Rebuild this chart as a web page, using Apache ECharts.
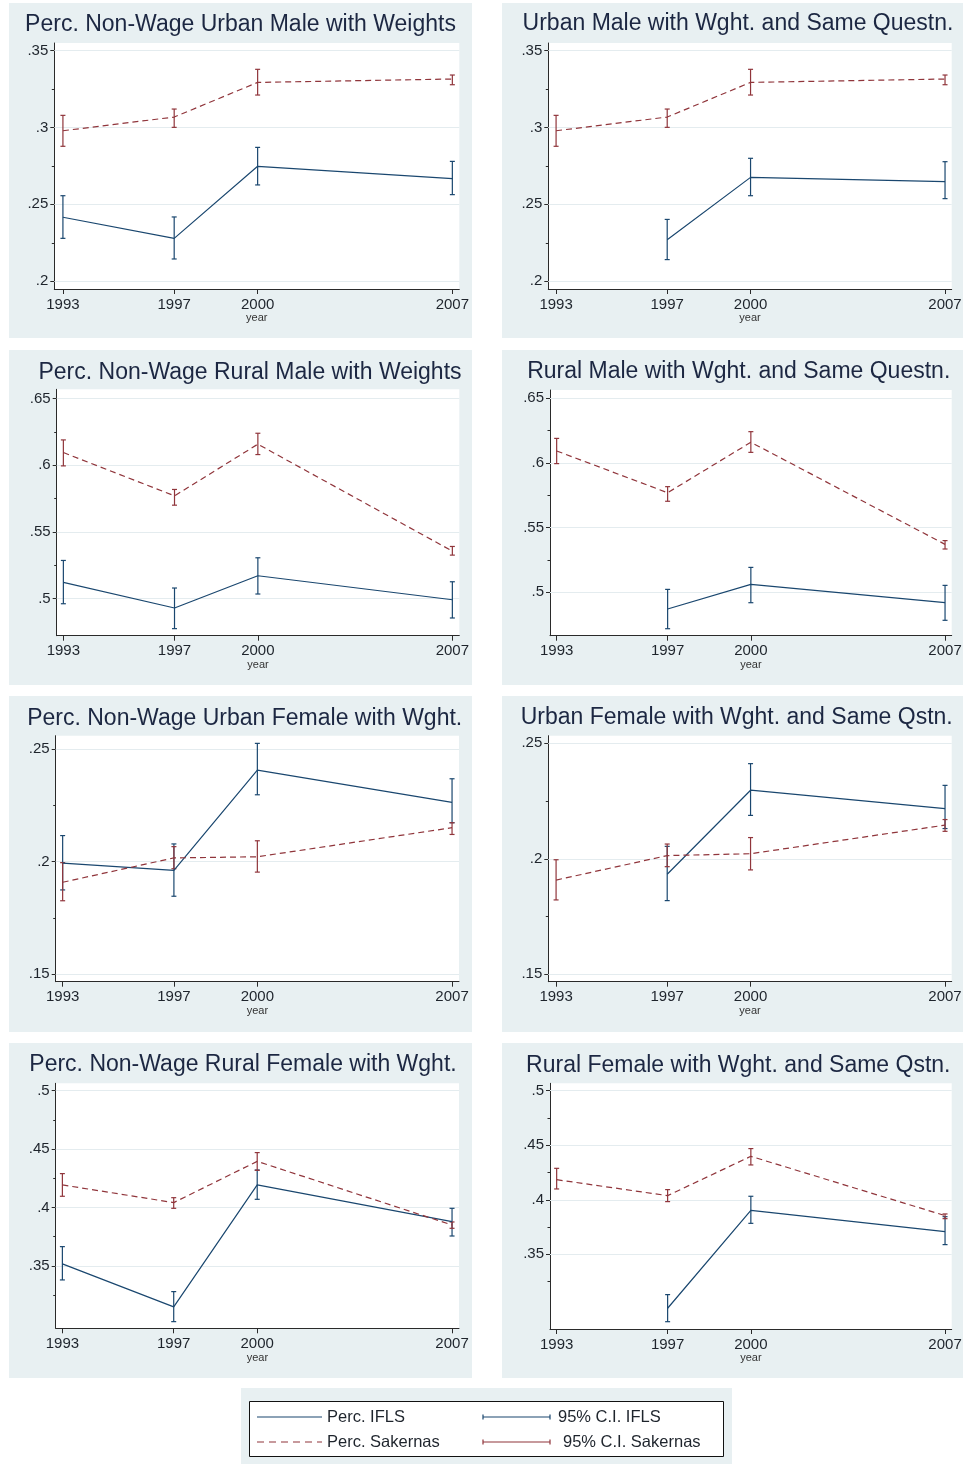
<!DOCTYPE html>
<html>
<head>
<meta charset="utf-8">
<script src="https://cdn.jsdelivr.net/npm/echarts@6/dist/echarts.min.js"></script>
<style>
html,body{margin:0;padding:0;background:#ffffff;}
#chart{width:963px;height:1464px;}
</style>
</head>
<body>
<div id="chart"></div>
<script>
// ---------------- DATA ----------------
const years = [1993, 1997, 2000, 2007];

const titles = [
  'Perc. Non-Wage Urban Male with Weights',
  'Urban Male with Wght. and Same Questn.',
  'Perc. Non-Wage Rural Male with Weights',
  'Rural Male with Wght. and Same Questn.',
  'Perc. Non-Wage Urban Female with Wght.',
  'Urban Female with Wght. and Same Qstn.',
  'Perc. Non-Wage Rural Female with Wght.',
  'Rural Female with Wght. and Same Qstn.'
];

// Perc. IFLS (mean) per panel, by year
const iflsMean = [
  [0.2416, 0.2279, 0.2747, 0.2667],
  [null,   0.2270, 0.2675, 0.2647],
  [0.5120, 0.4928, 0.5170, 0.4990],
  [null,   0.4871, 0.5062, 0.4920],
  [0.1993, 0.1961, 0.2405, 0.2262],
  [null,   0.1933, 0.2297, 0.2217],
  [0.3517, 0.3149, 0.4193, 0.3879],
  [null,   0.3006, 0.3903, 0.3708]
];
const iflsLow = [
  [0.2279, 0.2145, 0.2626, 0.2563],
  [null,   0.2141, 0.2556, 0.2537],
  [0.4960, 0.4773, 0.5033, 0.4853],
  [null,   0.4719, 0.4920, 0.4784],
  [0.1874, 0.1846, 0.2296, 0.2172],
  [null,   0.1819, 0.2188, 0.2131],
  [0.3380, 0.3023, 0.4070, 0.3756],
  [null,   0.2883, 0.3784, 0.3589]
];
const iflsHigh = [
  [0.2556, 0.2418, 0.2870, 0.2779],
  [null,   0.2402, 0.2799, 0.2777],
  [0.5285, 0.5078, 0.5305, 0.5125],
  [null,   0.5023, 0.5193, 0.5054],
  [0.2115, 0.2078, 0.2524, 0.2367],
  [null,   0.2054, 0.2412, 0.2318],
  [0.3665, 0.3280, 0.4321, 0.3993],
  [null,   0.3131, 0.4032, 0.3845]
];

// Perc. Sakernas (mean) per panel, by year
const sakMean = [
  [0.2978, 0.3067, 0.3292, 0.3314],
  [0.2978, 0.3067, 0.3292, 0.3314],
  [0.6095, 0.5770, 0.6158, 0.5355],
  [0.6093, 0.5770, 0.6160, 0.5371],
  [0.1908, 0.2016, 0.2021, 0.2150],
  [0.1908, 0.2014, 0.2022, 0.2146],
  [0.4193, 0.4042, 0.4395, 0.3850],
  [0.4184, 0.4038, 0.4398, 0.3855]
];
const sakLow = [
  [0.2877, 0.3000, 0.3210, 0.3277],
  [0.2877, 0.3000, 0.3210, 0.3277],
  [0.5995, 0.5700, 0.6080, 0.5325],
  [0.5995, 0.5704, 0.6082, 0.5335],
  [0.1826, 0.1968, 0.1953, 0.2120],
  [0.1822, 0.1966, 0.1952, 0.2119],
  [0.4096, 0.3993, 0.4318, 0.3822],
  [0.4099, 0.3983, 0.4319, 0.3827]
];
const sakHigh = [
  [0.3078, 0.3119, 0.3377, 0.3340],
  [0.3078, 0.3119, 0.3377, 0.3340],
  [0.6190, 0.5818, 0.6240, 0.5390],
  [0.6190, 0.5817, 0.6242, 0.5400],
  [0.1995, 0.2066, 0.2092, 0.2172],
  [0.1996, 0.2064, 0.2092, 0.2170],
  [0.4290, 0.4084, 0.4470, 0.3876],
  [0.4288, 0.4093, 0.4469, 0.3870]
];

// tick labels
const yMajorTicks = [
  [0.2, 0.25, 0.3, 0.35], [0.2, 0.25, 0.3, 0.35],
  [0.5, 0.55, 0.6, 0.65], [0.5, 0.55, 0.6, 0.65],
  [0.15, 0.2, 0.25],      [0.15, 0.2, 0.25],
  [0.35, 0.4, 0.45, 0.5], [0.35, 0.4, 0.45, 0.5]
];
const yMinorTicks = [
  [0.225, 0.275, 0.325], [0.225, 0.275, 0.325],
  [0.525, 0.575, 0.625], [0.525, 0.575, 0.625],
  [0.175, 0.225],        [0.175, 0.225],
  [0.325, 0.375, 0.425, 0.475], [0.325, 0.375, 0.425, 0.475]
];

const legendLabels = ['Perc. IFLS', 'Perc. Sakernas', '95% C.I. IFLS', '95% C.I. Sakernas'];

// ---------------- LAYOUT / STYLE ----------------
const yMin = [0.1950, 0.1950, 0.4720, 0.4665, 0.1467, 0.1468, 0.2966, 0.2816];
const yMax = [0.3548, 0.3548, 0.6570, 0.6564, 0.2558, 0.2533, 0.5063, 0.5067];
const xMin = [1992.69, 1992.72, 1992.76, 1992.76, 1992.75, 1992.72, 1992.76, 1992.76];
const xMax = [2007.25, 2007.24, 2007.25, 2007.24, 2007.25, 2007.24, 2007.25, 2007.24];

// plot boxes: [left, top, right, bottom]
const plotBoxes = [
  [54.3, 43, 459.3, 289],
  [548.3, 43, 951.7, 289],
  [56.7, 389.3, 459.3, 635.7],
  [550, 390, 951.7, 635.7],
  [55.7, 735.7, 459, 981.7],
  [548.3, 735.7, 951.7, 981.7],
  [55.7, 1083.3, 459, 1328.3],
  [550, 1083.3, 951.7, 1329]
];
// panel background boxes: [x, y, w, h]
const panelBoxes = [
  [9, 3, 463, 335], [502, 3, 461, 335],
  [9, 350, 463, 335], [502, 350, 461, 335],
  [9, 696, 463, 336], [502, 696, 461, 336],
  [9, 1043, 463, 335], [502, 1043, 461, 335]
];
const titleCenterX = [240.5, 738, 250, 738.7, 244.7, 736.7, 243, 738.3];
const titleTop = [13, 12.5, 361, 359.7, 707, 706, 1053, 1053.7];

const FONT = '"Liberation Sans", Arial, Helvetica, sans-serif';
const NAVY = '#1a476f';
const MAROON = '#90353b';
const PANEL_BG = '#e8f0f2';
const GRID_COLOR = '#e4ecef';
const AXIS_COLOR = '#2a2a2a';
const TEXT_COLOR = '#1e242c';
const TITLE_COLOR = '#1c2742';

function fmtY(v) {
  return String(+(+v).toFixed(3)).replace(/^0\./, '.');
}

function ciRenderer(color) {
  return function (params, api) {
    const x = api.value(0);
    const pLo = api.coord([x, api.value(1)]);
    const pHi = api.coord([x, api.value(2)]);
    const w = 2.5;
    const st = { stroke: color, lineWidth: 1.2 };
    return {
      type: 'group',
      children: [
        { type: 'line', shape: { x1: pLo[0], y1: pLo[1], x2: pHi[0], y2: pHi[1] }, style: st },
        { type: 'line', shape: { x1: pLo[0] - w, y1: pLo[1], x2: pLo[0] + w, y2: pLo[1] }, style: st },
        { type: 'line', shape: { x1: pHi[0] - w, y1: pHi[1], x2: pHi[0] + w, y2: pHi[1] }, style: st }
      ]
    };
  };
}

function pts(vals) {
  return years.map((y, i) => [y, vals[i]]).filter(d => d[1] != null);
}
function ciPts(lo, hi) {
  return years.map((y, i) => [y, lo[i], hi[i]]).filter(d => d[1] != null && d[2] != null);
}

const grids = [], xAxes = [], yAxes = [], series = [], titleOpts = [], graphics = [];

for (let i = 0; i < 8; i++) {
  const b = plotBoxes[i];
  grids.push({
    left: b[0], top: b[1], width: b[2] - b[0], height: b[3] - b[1],
    show: true, backgroundColor: '#ffffff', borderWidth: 0,
    containLabel: false, outerBoundsMode: 'none'
  });
  titleOpts.push({
    text: titles[i], left: titleCenterX[i], top: titleTop[i], textAlign: 'center', padding: 0,
    textStyle: { fontFamily: FONT, fontSize: 23, fontWeight: 'normal', color: TITLE_COLOR }
  });
  xAxes.push({
    gridIndex: i, type: 'value', min: xMin[i], max: xMax[i],
    name: 'year', nameLocation: 'middle', nameGap: 22,
    nameTextStyle: { fontFamily: FONT, fontSize: 11, color: '#333' },
    axisLine: { show: true, onZero: false, lineStyle: { color: AXIS_COLOR, width: 1 } },
    axisTick: { show: true, length: 5, customValues: years, lineStyle: { color: AXIS_COLOR } },
    axisLabel: { customValues: years, margin: 8, fontFamily: FONT, fontSize: 15, color: TEXT_COLOR, formatter: v => String(Math.round(v)) },
    splitLine: { show: false }
  });
  yAxes.push({
    gridIndex: i, type: 'value', position: 'left', min: yMin[i], max: yMax[i],
    axisLine: { show: true, onZero: false, lineStyle: { color: AXIS_COLOR, width: 1 } },
    axisTick: { show: true, length: 4, customValues: yMajorTicks[i], lineStyle: { color: AXIS_COLOR } },
    axisLabel: { customValues: yMajorTicks[i], margin: 6, fontFamily: FONT, fontSize: 15, color: TEXT_COLOR, formatter: fmtY },
    splitLine: { show: false }
  });
  yAxes.push({
    gridIndex: i, type: 'value', position: 'left', min: yMin[i], max: yMax[i],
    axisLine: { show: false, onZero: false },
    axisTick: { show: true, length: 2.5, customValues: yMinorTicks[i], lineStyle: { color: AXIS_COLOR } },
    axisLabel: { show: false },
    splitLine: { show: false }
  });
  const yIdx = 2 * i;
  // gridlines
  series.push({
    type: 'line', xAxisIndex: i, yAxisIndex: yIdx, data: [], silent: true, z: 1,
    markLine: {
      silent: true, z: 1, symbol: ['none', 'none'], label: { show: false }, animation: false,
      lineStyle: { color: GRID_COLOR, width: 1, type: 'solid' },
      data: yMajorTicks[i].map(v => ({ yAxis: v }))
    }
  });
  series.push({
    type: 'custom', name: '95% C.I. IFLS', xAxisIndex: i, yAxisIndex: yIdx, z: 3,
    renderItem: ciRenderer(NAVY), encode: { x: 0, y: [1, 2] },
    data: ciPts(iflsLow[i], iflsHigh[i])
  });
  series.push({
    type: 'custom', name: '95% C.I. Sakernas', xAxisIndex: i, yAxisIndex: yIdx, z: 3,
    renderItem: ciRenderer(MAROON), encode: { x: 0, y: [1, 2] },
    data: ciPts(sakLow[i], sakHigh[i])
  });
  series.push({
    type: 'line', name: 'Perc. IFLS', xAxisIndex: i, yAxisIndex: yIdx, z: 4,
    showSymbol: false, symbol: 'none',
    lineStyle: { color: NAVY, width: 1.2, type: 'solid' },
    data: pts(iflsMean[i])
  });
  series.push({
    type: 'line', name: 'Perc. Sakernas', xAxisIndex: i, yAxisIndex: yIdx, z: 4,
    showSymbol: false, symbol: 'none',
    lineStyle: { color: MAROON, width: 1.2, type: [6, 4] },
    data: pts(sakMean[i])
  });
  const pb = panelBoxes[i];
  graphics.push({
    type: 'rect', z: -100, silent: true,
    shape: { x: pb[0], y: pb[1], width: pb[2], height: pb[3] },
    style: { fill: PANEL_BG }
  });
}

// legend (drawn as graphics)
const LEG_Y1 = 1417, LEG_Y2 = 1442;
const legendTextStyle = (x, y, t) => ({
  type: 'text', z: 10, silent: true, x: x, y: y,
  style: { text: t, font: '16.5px ' + FONT, fill: TEXT_COLOR, textVerticalAlign: 'middle', verticalAlign: 'middle' }
});
graphics.push(
  { type: 'rect', z: -100, silent: true, shape: { x: 241, y: 1388, width: 491, height: 76 }, style: { fill: PANEL_BG } },
  { type: 'rect', z: 5, silent: true, shape: { x: 249.5, y: 1401.5, width: 474, height: 55 }, style: { fill: '#ffffff', stroke: '#111', lineWidth: 1 } },
  { type: 'line', z: 10, silent: true, shape: { x1: 257, y1: LEG_Y1, x2: 322, y2: LEG_Y1 }, style: { stroke: NAVY, lineWidth: 1.2 } },
  { type: 'line', z: 10, silent: true, shape: { x1: 257, y1: LEG_Y2, x2: 322, y2: LEG_Y2 }, style: { stroke: MAROON, lineWidth: 1.2, lineDash: [7, 5] } },
  legendTextStyle(327, LEG_Y1, legendLabels[0]),
  legendTextStyle(327, LEG_Y2, legendLabels[1]),
  { type: 'line', z: 10, silent: true, shape: { x1: 483, y1: LEG_Y1, x2: 550, y2: LEG_Y1 }, style: { stroke: NAVY, lineWidth: 1.2 } },
  { type: 'line', z: 10, silent: true, shape: { x1: 483, y1: LEG_Y1 - 2.5, x2: 483, y2: LEG_Y1 + 2.5 }, style: { stroke: NAVY, lineWidth: 1.2 } },
  { type: 'line', z: 10, silent: true, shape: { x1: 550, y1: LEG_Y1 - 2.5, x2: 550, y2: LEG_Y1 + 2.5 }, style: { stroke: NAVY, lineWidth: 1.2 } },
  { type: 'line', z: 10, silent: true, shape: { x1: 483, y1: LEG_Y2, x2: 550, y2: LEG_Y2 }, style: { stroke: MAROON, lineWidth: 1.2 } },
  { type: 'line', z: 10, silent: true, shape: { x1: 483, y1: LEG_Y2 - 2.5, x2: 483, y2: LEG_Y2 + 2.5 }, style: { stroke: MAROON, lineWidth: 1.2 } },
  { type: 'line', z: 10, silent: true, shape: { x1: 550, y1: LEG_Y2 - 2.5, x2: 550, y2: LEG_Y2 + 2.5 }, style: { stroke: MAROON, lineWidth: 1.2 } },
  legendTextStyle(558, LEG_Y1, legendLabels[2]),
  legendTextStyle(563, LEG_Y2, legendLabels[3])
);

const chart = echarts.init(document.getElementById('chart'), null, { renderer: 'canvas', width: 963, height: 1464 });
chart.setOption({
  animation: false,
  backgroundColor: '#ffffff',
  title: titleOpts,
  grid: grids,
  xAxis: xAxes,
  yAxis: yAxes,
  series: series,
  graphic: { elements: graphics }
});
</script>
</body>
</html>
